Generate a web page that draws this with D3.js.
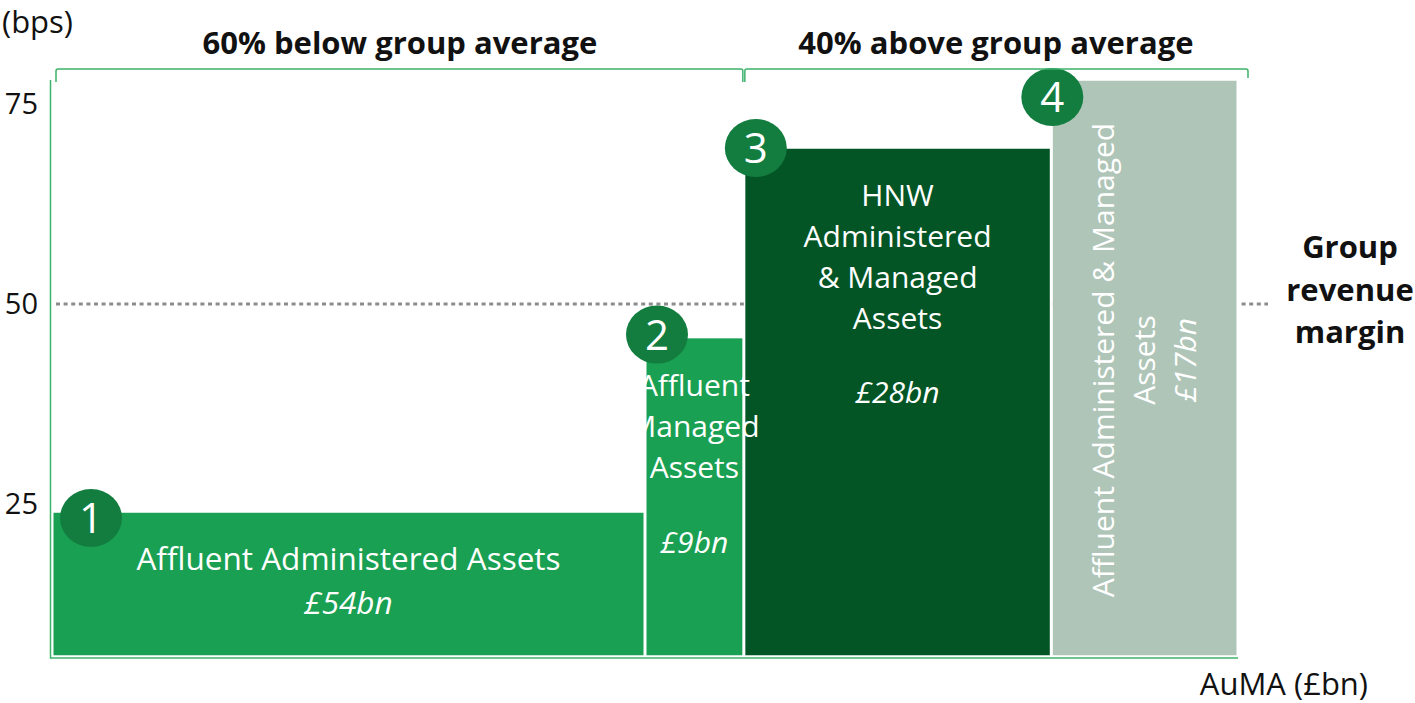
<!DOCTYPE html>
<html>
<head>
<meta charset="utf-8">
<script src="https://cdn.jsdelivr.net/npm/d3@7"></script>
<style>
  html, body { margin: 0; padding: 0; background: #ffffff; }
  svg { display: block; font-family: "Open Sans", "Noto Sans", sans-serif; }
</style>
</head>
<body>
<svg id="chart" width="1415" height="703"></svg>
<script>
// Segments: revenue margin (bps) against assets under management/administration (£bn)
const segments   = ["1", "2", "3", "4"];
const segLabels  = [
  ["Affluent Administered Assets"],
  ["Affluent", "Managed", "Assets"],
  ["HNW", "Administered", "& Managed", "Assets"],
  ["Affluent Administered & Managed", "Assets"]
];
const aumaBn     = [54, 9, 28, 17];          // bar widths
const marginBps  = [24, 45.8, 69.5, 78];     // bar heights
const groupMargin = 50;
const yTicks     = [25, 50, 75];
const groups     = [
  { label: "60% below group average", from: 0, to: 2 },
  { label: "40% above group average", from: 2, to: 4 }
];

const fills     = ["#19a052", "#19a052", "#035525", "#afc5b8"];
const badgeFill = "#137d40";
const axisGreen = "#3db36b";
const titleSize = 31;

const svg = d3.select("#chart");

// cumulative start of each bar along the AuMA axis
const starts = [];
aumaBn.reduce((acc, v, i) => { starts[i] = acc; return acc + v; }, 0);
const total = d3.sum(aumaBn);

const x = d3.scaleLinear().domain([0, total]).range([52, 1238]);
const y = d3.scaleLinear().domain([6, 78]).range([656, 80]);

// group revenue margin reference line (dotted), drawn beneath the bars
svg.append("line")
  .attr("x1", 56).attr("x2", 1268)
  .attr("y1", y(groupMargin)).attr("y2", y(groupMargin))
  .attr("stroke", "#8c8c8c").attr("stroke-width", 3)
  .attr("stroke-dasharray", "4,3.6");

// bars
const bars = segments.map((s, i) => ({
  id: s, x0: starts[i], w: aumaBn[i], v: marginBps[i], lines: segLabels[i], fill: fills[i]
}));

svg.append("g").selectAll("rect")
  .data(bars)
  .join("rect")
  .attr("x", d => x(d.x0) + 0.75)
  .attr("width", d => x(d.x0 + d.w) - x(d.x0) - 1.5)
  .attr("y", d => y(d.v))
  .attr("height", d => y.range()[0] - y(d.v))
  .attr("fill", d => d.fill)
  .attr("stroke", "#ffffff")
  .attr("stroke-width", 1.5);

// axes: green frame lines with plain tick labels
svg.append("line")
  .attr("x1", 50.5).attr("x2", 50.5).attr("y1", 80).attr("y2", 658.5)
  .attr("stroke", axisGreen).attr("stroke-width", 1.5);
svg.append("line")
  .attr("x1", 50).attr("x2", x(total)).attr("y1", 658).attr("y2", 658)
  .attr("stroke", axisGreen).attr("stroke-width", 1.5);

const yAxis = svg.append("g")
  .attr("transform", "translate(50,0)")
  .call(d3.axisLeft(y).tickValues(yTicks).tickSize(0).tickPadding(12));
yAxis.select(".domain").remove();
yAxis.selectAll("text")
  .attr("font-size", 29).attr("fill", "#111111")
  .attr("font-family", "'Open Sans', sans-serif");

svg.append("text").attr("x", 2).attr("y", 33)
  .attr("font-size", titleSize).attr("fill", "#111111").text("(bps)");
svg.append("text").attr("x", 1368).attr("y", 695).attr("text-anchor", "end")
  .attr("font-size", titleSize).attr("fill", "#111111").text("AuMA (£bn)");

// bar labels: single-line label larger, stacked labels slightly smaller
const labelSize = [31.5, 30, 30, 30];
const lineH     = [43.5, 41, 41, 41];
const valueGap  = [1, 1.85, 1.8, 1];
bars.forEach((d, i) => {
  const cx = (x(d.x0) + x(d.x0 + d.w)) / 2;
  const top = y(d.v);
  if (i < 3) {
    const g = svg.append("g").attr("fill", "#ffffff").attr("text-anchor", "middle").attr("font-size", labelSize[i]);
    const first = top + 58;
    d.lines.forEach((t, k) => {
      g.append("text").attr("x", cx).attr("y", first + k * lineH[i]).text(t);
    });
    g.append("text").attr("x", cx)
      .attr("y", first + (d.lines.length - 1 + valueGap[i]) * lineH[i])
      .attr("font-style", "italic").text("£" + d.w + "bn");
  } else {
    const cy = 360;
    const g = svg.append("g")
      .attr("transform", `translate(${cx},${cy}) rotate(-90)`)
      .attr("fill", "#ffffff").attr("text-anchor", "middle").attr("font-size", labelSize[i]);
    const rows = d.lines.concat(["£" + d.w + "bn"]);
    rows.forEach((t, k) => {
      g.append("text").attr("x", 0).attr("y", -31 + k * lineH[i])
        .attr("font-style", k === rows.length - 1 ? "italic" : "normal").text(t);
    });
  }
});

// numbered badges at each bar's top-left corner
const badgeShift = [[39, 6], [12, -3], [12, 0], [1, 17]];
bars.forEach((d, i) => {
  const bx = x(d.x0) + badgeShift[i][0];
  const by = y(d.v) + badgeShift[i][1];
  svg.append("ellipse").attr("cx", bx).attr("cy", by).attr("rx", 31).attr("ry", 29)
    .attr("fill", badgeFill);
  svg.append("text").attr("x", bx).attr("y", by + 15)
    .attr("text-anchor", "middle").attr("font-size", 42).attr("fill", "#ffffff")
    .text(d.id);
});

// group brackets and headers
const split = x(starts[2]);
const left = x(0) + 4, right = x(total) + 10, by0 = 69;
const bracket = d3.path();
bracket.moveTo(left, by0 + 13); bracket.lineTo(left, by0 + 2);
bracket.quadraticCurveTo(left, by0, left + 2, by0);
bracket.lineTo(split - 3, by0);
bracket.quadraticCurveTo(split - 1, by0, split - 1, by0 + 2);
bracket.lineTo(split - 1, by0 + 13);
bracket.moveTo(split + 1, by0 + 13); bracket.lineTo(split + 1, by0 + 2);
bracket.quadraticCurveTo(split + 1, by0, split + 3, by0);
bracket.lineTo(right - 2, by0);
bracket.quadraticCurveTo(right, by0, right, by0 + 2);
bracket.lineTo(right, by0 + 9);
svg.append("path").attr("d", bracket.toString())
  .attr("fill", "none").attr("stroke", axisGreen).attr("stroke-width", 1.5);

const edges = [left, split, right];
groups.forEach((gr, i) => {
  svg.append("text")
    .attr("x", (edges[i] + edges[i + 1]) / 2).attr("y", 54)
    .attr("text-anchor", "middle").attr("font-size", titleSize).attr("font-weight", "bold")
    .attr("fill", "#111111").text(gr.label);
});

// label for the reference line
const gl = svg.append("g").attr("text-anchor", "middle").attr("font-size", titleSize)
  .attr("font-weight", "bold").attr("fill", "#111111");
["Group", "revenue", "margin"].forEach((t, k) => {
  gl.append("text").attr("x", 1350).attr("y", y(groupMargin) - 46 + k * 42.5).text(t);
});
</script>
</body>
</html>
